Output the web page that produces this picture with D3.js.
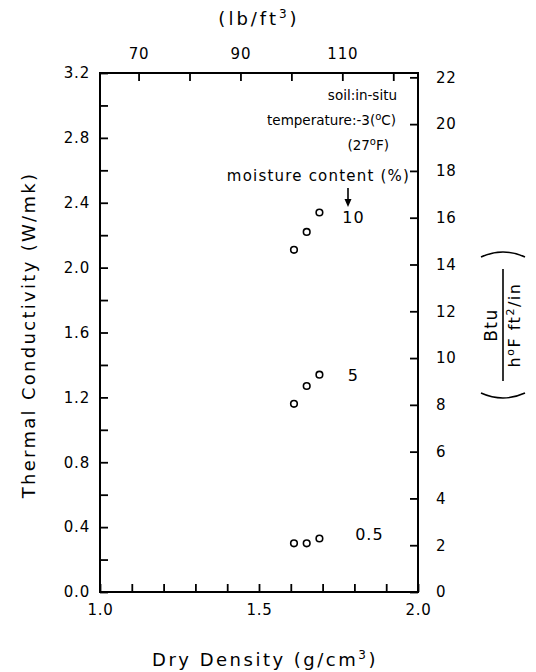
<!DOCTYPE html>
<html>
    <head>
        <script src="https://d3js.org/d3.v7.min.js"></script>
        <style>
            body { margin: 0; background: #fff; }
            text { font-family: 'DejaVu Sans', sans-serif; fill: #000; }
            .axis text { font-size: 15px; letter-spacing: 0.8px; }
            .axis line { stroke: #000; stroke-width: 1.8; }
        </style>
    </head>
    <body>
        <svg id="chart" width="536" height="672"></svg>
        <script>
            // dry density (g/cm3) and thermal conductivity (W/mK) per moisture content
            var density = [1.61, 1.65, 1.69];
            var k10 = [2.11, 2.22, 2.34];
            var k5 = [1.16, 1.27, 1.34];
            var k05 = [0.30, 0.30, 0.33];
            var seriesLabels = ['10', '5', '0.5'];
            var leftTicks = [0, 0.2, 0.4, 0.6, 0.8, 1.0, 1.2, 1.4, 1.6, 1.8, 2.0, 2.2, 2.4, 2.6, 2.8, 3.0, 3.2];
            var rightTicks = [0, 2, 4, 6, 8, 10, 12, 14, 16, 18, 20, 22];
            var topTicks = [70, 80, 90, 100, 110, 120];
            var topLabels = [70, 90, 110];

            var plotL = 100, plotR = 418, plotT = 73, plotB = 592;
            var svg = d3.select('#chart');

            var x = d3.scaleLinear().domain([1.0, 2.0]).range([plotL, plotR]);
            var y = d3.scaleLinear().domain([0, 3.2]).range([plotB, plotT]);
            // 1 g/cm3 = 62.428 lb/ft3, 1 W/mK = 6.933 Btu in/(h ft2 F)
            var xLb = d3.scaleLinear().domain([62.428, 124.856]).range([plotL, plotR]);
            var yBtu = d3.scaleLinear().domain([0, 3.2 * 6.933]).range([plotB, plotT]);

            svg.append('g').attr('class', 'axis')
                .attr('transform', 'translate(0,' + plotB + ')')
                .call(d3.axisBottom(x).tickValues(d3.range(1.0, 2.01, 0.1)).tickSizeInner(-8).tickSizeOuter(0).tickPadding(12)
                    .tickFormat(d => (Math.abs(d - 1) < 1e-6 || Math.abs(d - 1.5) < 1e-6 || Math.abs(d - 2) < 1e-6) ? d3.format('.1f')(d) : ''));

            svg.append('g').attr('class', 'axis')
                .attr('transform', 'translate(' + plotL + ',0)')
                .call(d3.axisLeft(y).tickValues(leftTicks).tickSizeInner(-8).tickSizeOuter(0).tickPadding(10)
                    .tickFormat(d => (Math.round(d * 10) % 4 === 0) ? d3.format('.1f')(d) : ''));

            svg.append('g').attr('class', 'axis')
                .attr('transform', 'translate(' + plotR + ',0)')
                .call(d3.axisRight(yBtu).tickValues(rightTicks).tickSizeInner(-8).tickSizeOuter(0).tickPadding(18));

            svg.append('g').attr('class', 'axis')
                .attr('transform', 'translate(0,' + plotT + ')')
                .call(d3.axisTop(xLb).tickValues(topTicks).tickSizeInner(-8).tickSizeOuter(0).tickPadding(14)
                    .tickFormat(d => topLabels.indexOf(d) >= 0 ? d : ''));

            svg.selectAll('.axis .domain').remove();

            svg.append('rect')
                .attr('x', plotL).attr('y', plotT)
                .attr('width', plotR - plotL).attr('height', plotB - plotT)
                .attr('fill', 'none').attr('stroke', '#000').attr('stroke-width', 2);

            var groups = [k10, k5, k05];
            var labelDx = [34, 34, 50], labelDy = [11, 6, 2];
            groups.forEach(function (vals, i) {
                svg.append('g').selectAll('circle')
                    .data(vals)
                    .join('circle')
                    .attr('cx', (d, j) => x(density[j]))
                    .attr('cy', d => y(d))
                    .attr('r', 3.3)
                    .attr('fill', 'none')
                    .attr('stroke', '#000')
                    .attr('stroke-width', 1.6);

                var last = vals[vals.length - 1];
                svg.append('text')
                    .attr('x', x(density[2]) + labelDx[i])
                    .attr('y', y(last) + labelDy[i])
                    .attr('text-anchor', 'middle')
                    .style('font-size', '16px')
                    .style('letter-spacing', '1px')
                    .text(seriesLabels[i]);
            });

            // annotation block
            var note = svg.append('g').style('font-size', '13.5px').attr('text-anchor', 'end');
            note.append('text').attr('x', 397).attr('y', 100).text('soil:in-situ');
            note.append('text').attr('x', 396).attr('y', 125).html('temperature:-3(<tspan dy="-5" font-size="10px">o</tspan><tspan dy="5">C)</tspan>');
            note.append('text').attr('x', 389).attr('y', 150).html('(27<tspan dy="-5" font-size="10px">o</tspan><tspan dy="5">F)</tspan>');
            note.append('text').attr('x', 410).attr('y', 181).style('font-size', '15px').style('letter-spacing', '1.2px')
                .text('moisture content (%)');

            svg.append('line').attr('x1', 348).attr('x2', 348).attr('y1', 188).attr('y2', 200)
                .attr('stroke', '#000').attr('stroke-width', 1.6);
            svg.append('path').attr('d', 'M344.5,199 L351.5,199 L348,207 Z').attr('fill', '#000');

            // axis titles
            svg.append('text').attr('x', 259).attr('y', 25).attr('text-anchor', 'middle')
                .style('font-size', '18px').style('letter-spacing', '3px')
                .html('(lb/ft<tspan dy="-7" font-size="12px">3</tspan><tspan dy="7">)</tspan>');

            svg.append('text').attr('x', 265).attr('y', 666).attr('text-anchor', 'middle')
                .style('font-size', '18px').style('letter-spacing', '2.5px')
                .html('Dry Density (g/cm<tspan dy="-7" font-size="12px">3</tspan><tspan dy="7">)</tspan>');

            svg.append('text').attr('transform', 'translate(35,' + 335 + ') rotate(-90)').attr('text-anchor', 'middle')
                .style('font-size', '18px').style('letter-spacing', '2.3px')
                .text('Thermal Conductivity (W/mk)');

            var rl = svg.append('g').attr('transform', 'translate(503,325) rotate(-90)');
            rl.append('text').attr('x', 0).attr('y', -6).attr('text-anchor', 'middle')
                .style('font-size', '17px').style('letter-spacing', '1.5px').text('Btu');
            rl.append('line').attr('x1', -56).attr('x2', 56).attr('y1', 0).attr('y2', 0)
                .attr('stroke', '#000').attr('stroke-width', 1.6);
            rl.append('text').attr('x', 0).attr('y', 17).attr('text-anchor', 'middle')
                .style('font-size', '16px').style('letter-spacing', '1.5px')
                .html('h<tspan dy="-6" font-size="11px">o</tspan><tspan dy="6">F ft</tspan><tspan dy="-6" font-size="11px">2</tspan><tspan dy="6">/in</tspan>');
            rl.append('path').attr('d', 'M-68,-22 Q-78,0 -68,22').attr('fill', 'none').attr('stroke', '#000').attr('stroke-width', 1.6);
            rl.append('path').attr('d', 'M68,-22 Q78,0 68,22').attr('fill', 'none').attr('stroke', '#000').attr('stroke-width', 1.6);
        </script>
    </body>
</html>
